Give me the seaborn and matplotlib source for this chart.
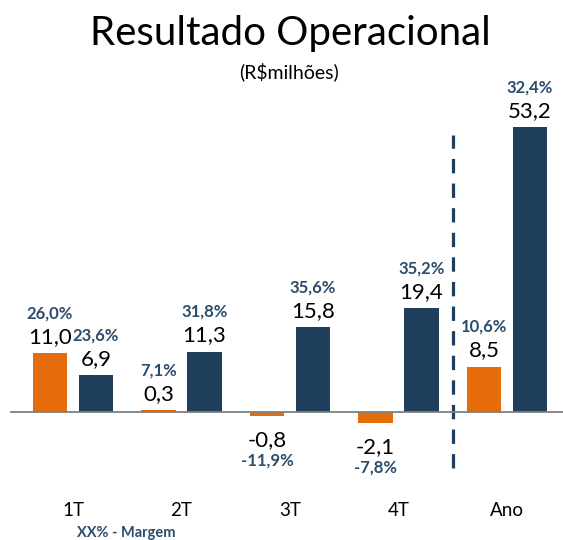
import matplotlib
matplotlib.use("Agg")
import matplotlib.pyplot as plt
import seaborn as sns
import pandas as pd

categories = ["1T", "2T", "3T", "4T", "Ano"]
series_names = ["Anterior", "Atual"]
values_prev = [11.0, 0.3, -0.8, -2.1, 8.5]
values_curr = [6.9, 11.3, 15.8, 19.4, 53.2]
margin_prev = ["26,0%", "7,1%", "-11,9%", "-7,8%", "10,6%"]
margin_curr = ["23,6%", "31,8%", "35,6%", "35,2%", "32,4%"]

ORANGE = "#E46C0A"
NAVY = "#1F3F5C"
MARGIN_C = "#2B4C6C"

sns.set_theme(style="white")
plt.rcParams["font.family"] = ["Lato", "DejaVu Sans"]

df = pd.DataFrame({
    "cat": categories * 2,
    "serie": [series_names[0]] * len(categories) + [series_names[1]] * len(categories),
    "valor": values_prev + values_curr,
})

fig = plt.figure(figsize=(5.63, 5.40), dpi=100)
ax = fig.add_axes([10 / 563, 1 - 470 / 540, 1 - 10 / 563, 370 / 540])

sns.barplot(data=df, x="cat", y="valor", hue="serie", order=categories,
            hue_order=series_names, palette=[ORANGE, NAVY], width=0.85, gap=0.25,
            errorbar=None, legend=False, ax=ax, saturation=1, linewidth=0,
            edgecolor="none")

ax.set_xlim(-0.58, 4.516)
ax.set_ylim(-10.84, 58.32)
for s in ax.spines.values():
    s.set_visible(False)
ax.set_yticks([])
ax.set_xlabel("")
ax.set_ylabel("")
ax.tick_params(axis="x", length=0, pad=23, labelsize=13.5, labelcolor="black")
ax.axhline(0, color="#7F7F7F", lw=1.3, zorder=3)

ax.vlines(3.5, -10.5, 51.8, colors=NAVY, lw=2.3, linestyles=(0, (4.5, 3.2)))

margins = [margin_prev, margin_curr]
vals = [values_prev, values_curr]
for k, cont in enumerate(ax.containers):
    for i, bar in enumerate(cont):
        xc = bar.get_x() + bar.get_width() / 2
        v = vals[k][i]
        lab = f"{v:.1f}".replace(".", ",")
        if v >= 0:
            ax.annotate(lab, (xc, v), xytext=(0, 7.5), textcoords="offset points",
                        ha="center", va="baseline", fontsize=16, color="black")
            ax.annotate(margins[k][i], (xc, v), xytext=(0, 25), textcoords="offset points",
                        ha="center", va="baseline", fontsize=12, fontweight="bold", color=MARGIN_C)
        else:
            ax.annotate(lab, (xc, v), xytext=(0, -21.5), textcoords="offset points",
                        ha="center", va="baseline", fontsize=16, color="black")
            ax.annotate(margins[k][i], (xc, v), xytext=(0, -35.5), textcoords="offset points",
                        ha="center", va="baseline", fontsize=12, fontweight="bold", color=MARGIN_C)

fig.text(290 / 563, 1 - 33 / 540, "Resultado Operacional", ha="center", va="center",
         fontsize=29, color="black")
fig.text(289 / 563, 1 - 72 / 540, "(R$milhões)", ha="center", va="center",
         fontsize=14, color="black")
fig.text(77 / 563, 1 - 533 / 540, "XX% - Margem", ha="left", va="center",
         fontsize=10.5, fontweight="bold", color=MARGIN_C)

fig.savefig("out.png", dpi=100)
